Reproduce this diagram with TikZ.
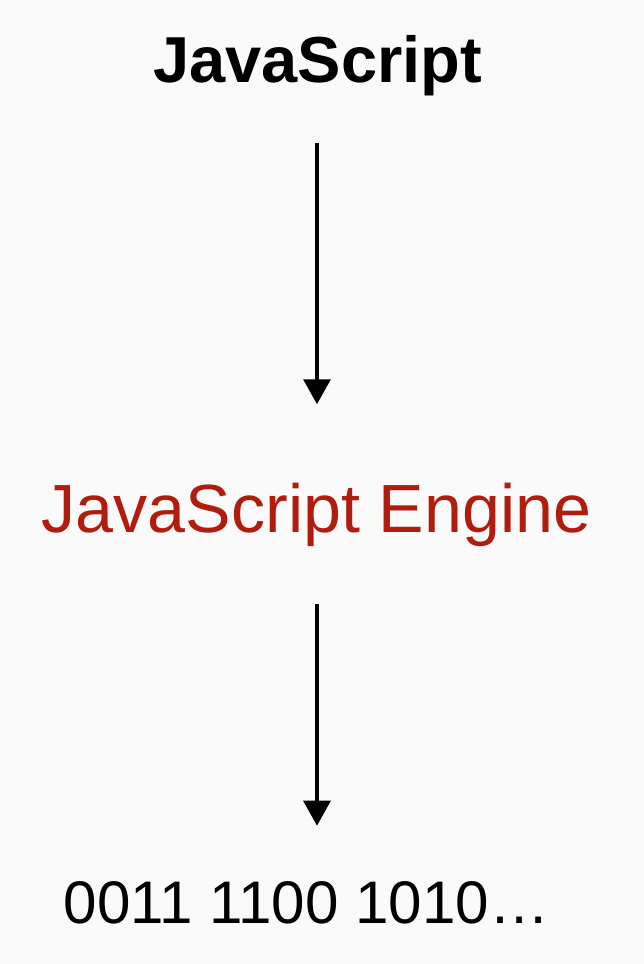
\documentclass[tikz,border=0pt]{standalone}
\usepackage{fontspec}
\setmainfont{Liberation Sans}
\usepackage{tikz}
\usetikzlibrary{arrows.meta}
\definecolor{slidebg}{RGB}{250,250,250}
\definecolor{engred}{RGB}{176,28,14}

\begin{document}
\begin{tikzpicture}[
    x=0.02cm, y=-0.02cm,
    label/.style={inner sep=0pt, anchor=base},
    source/.style={label, font=\fontsize{37}{40}\selectfont\bfseries},
    engine/.style={label, text=engred, font=\fontsize{38.8}{42}\selectfont},
    output/.style={label, font=\fontsize{34.2}{37}\selectfont},
    flow/.style={-{Triangle[length=0.5cm,width=0.54cm]}, line width=1.8pt}
]
\fill[slidebg] (0,0) rectangle (644,964);

\node[source] (JavaScript) at (317.5,82) {JavaScript};
\node[engine] (Engine) at (316.5,532) {JavaScript Engine};
\node[output] (Bits) at (306.5,923) {0011 1100 1010…};

\draw[flow, shorten <=0.94cm, shorten >=1.56cm] (JavaScript.south -| 317,0) -- (Engine.north -| 317,0);
\draw[flow, shorten <=1.16cm, shorten >=1.1cm] (Engine.south -| 317,0) -- (Bits.north -| 317,0);
\end{tikzpicture}
\end{document}
